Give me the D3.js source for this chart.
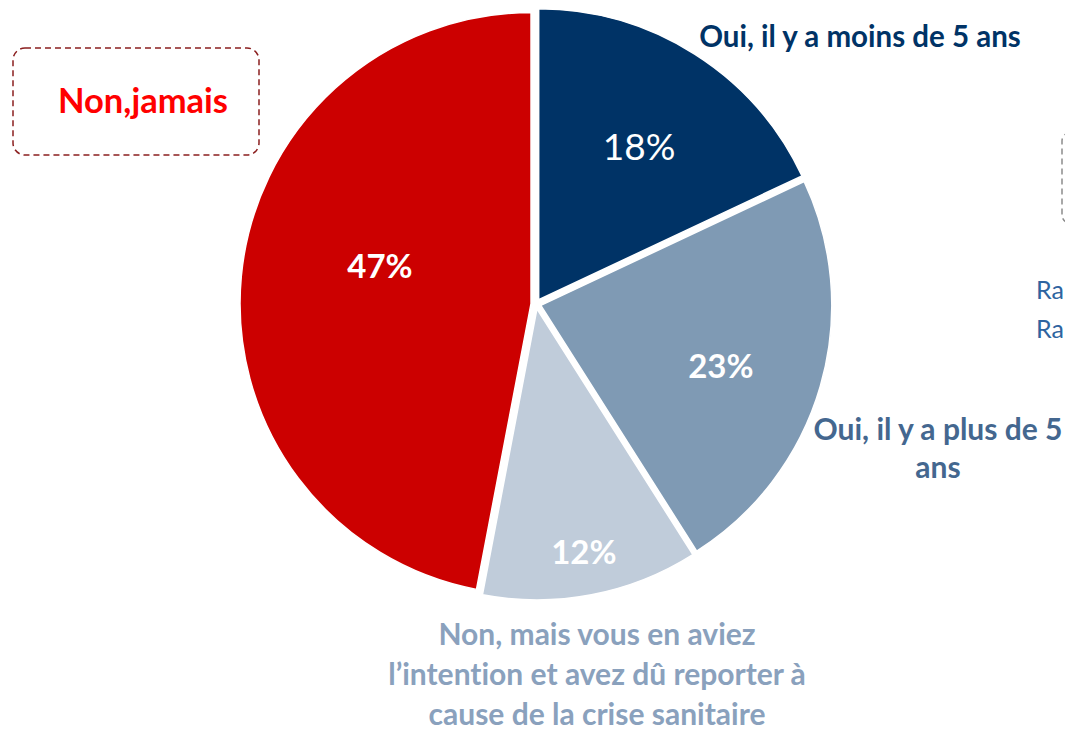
<!DOCTYPE html>
<html>
<head>
<meta charset="utf-8">
<script src="https://cdn.jsdelivr.net/npm/d3@7"></script>
<style>
  html, body { margin: 0; padding: 0; background: #fff; overflow: hidden; }
  svg { display: block; font-family: Lato, "Open Sans", sans-serif; font-variant-ligatures: none; }
</style>
</head>
<body>
<div id="chart"></div>
<script>
// DATA
const categories = [
  "Oui, il y a moins de 5 ans",
  "Oui, il y a plus de 5 ans",
  "Non, mais vous en aviez l’intention et avez dû reporter à cause de la crise sanitaire",
  "Non,jamais"
];
const values = [18, 23, 12, 47];
const valueLabels = ["18%", "23%", "12%", "47%"];

// label lines as they wrap in the picture
const labelLines = [
  ["Oui, il y a moins de 5 ans"],
  ["Oui, il y a plus de 5", "ans"],
  ["Non, mais vous en aviez", "l’intention et avez dû reporter à", "cause de la crise sanitaire"],
  ["Non,jamais"]
];

const width = 1065, height = 731;
const cx = 536, cy = 304, radius = 291, explode = 5;

const sliceColors = ["#003366", "#7f9ab4", "#c0ccda", "#cc0000"];
const labelColors = ["#003366", "#44678f", "#8aa1bd", "#ff0000"];
// where the % label sits: share of the radius and angle (degrees, clockwise from top)
const pctRadius = [0.645, 0.67, 0.87, 0.552];
const pctAngle = [33.3, 108.5, 169.1, 283.7];
const pctWeight = ["normal", "bold", "bold", "bold"];
const pctSize = [37, 33, 33, 33];

const svg = d3.select("#chart")
  .append("svg")
  .attr("width", width)
  .attr("height", height);

const pie = d3.pie().sort(null).value((d) => d);
const arcs = pie(values);

const arc = d3.arc().innerRadius(0).outerRadius(radius);

const g = svg.append("g").attr("transform", `translate(${cx}, ${cy})`);

// SLICES
g.selectAll(".slice")
  .data(arcs)
  .enter()
  .append("path")
  .attr("class", "slice")
  .attr("transform", (d) => {
    const a = (d.startAngle + d.endAngle) / 2;
    return `translate(${explode * Math.sin(a)}, ${-explode * Math.cos(a)})`;
  })
  .attr("d", arc)
  .attr("fill", (d, i) => sliceColors[i])
  .attr("stroke", "#fff")
  .attr("stroke-width", 1.5);

// PERCENT LABELS
const rad = Math.PI / 180;
g.selectAll(".pct")
  .data(arcs)
  .enter()
  .append("text")
  .attr("class", "pct")
  .attr("x", (d, i) => radius * pctRadius[i] * Math.sin(pctAngle[i] * rad))
  .attr("y", (d, i) => -radius * pctRadius[i] * Math.cos(pctAngle[i] * rad))
  .attr("dy", "0.36em")
  .attr("text-anchor", "middle")
  .attr("fill", "#fff")
  .style("font-weight", (d, i) => pctWeight[i])
  .style("font-size", (d, i) => pctSize[i] + "px")
  .text((d, i) => valueLabels[i]);

// CATEGORY LABELS
const labelPos = [
  { x: 860, y: 47, size: 29.5, gap: 0 },
  { x: 938, y: 440, size: 30, gap: 38 },
  { x: 597, y: 645, size: 30, gap: 40 },
  { x: 143, y: 113, size: 34.5, gap: 0 }
];

labelLines.forEach((lines, i) => {
  const p = labelPos[i];
  const t = svg.append("text")
    .attr("class", "cat-label")
    .attr("text-anchor", "middle")
    .attr("fill", labelColors[i])
    .style("font-weight", "bold")
    .style("font-size", p.size + "px");
  lines.forEach((line, j) => {
    t.append("tspan")
      .attr("x", p.x)
      .attr("y", p.y + j * p.gap)
      .text(line);
  });
});

// DASHED BOX ROUND "Non,jamais"
svg.append("rect")
  .attr("x", 13)
  .attr("y", 48)
  .attr("width", 246)
  .attr("height", 107)
  .attr("rx", 12)
  .attr("fill", "none")
  .attr("stroke", "#8b1f1f")
  .attr("stroke-width", 1.5)
  .attr("stroke-dasharray", "6,4");

// cut-off parts at the right edge
svg.append("rect")
  .attr("x", 1062)
  .attr("y", 133)
  .attr("width", 60)
  .attr("height", 90)
  .attr("rx", 8)
  .attr("fill", "none")
  .attr("stroke", "#8c8c8c")
  .attr("stroke-width", 1.5)
  .attr("stroke-dasharray", "6,4");

svg.selectAll(".cut-text")
  .data(["Ra", "Ra"])
  .enter()
  .append("text")
  .attr("class", "cut-text")
  .attr("x", 1036)
  .attr("y", (d, i) => 299 + i * 39)
  .attr("fill", "#2e64a0")
  .style("font-size", "25px")
  .text((d) => d);
</script>
</body>
</html>
